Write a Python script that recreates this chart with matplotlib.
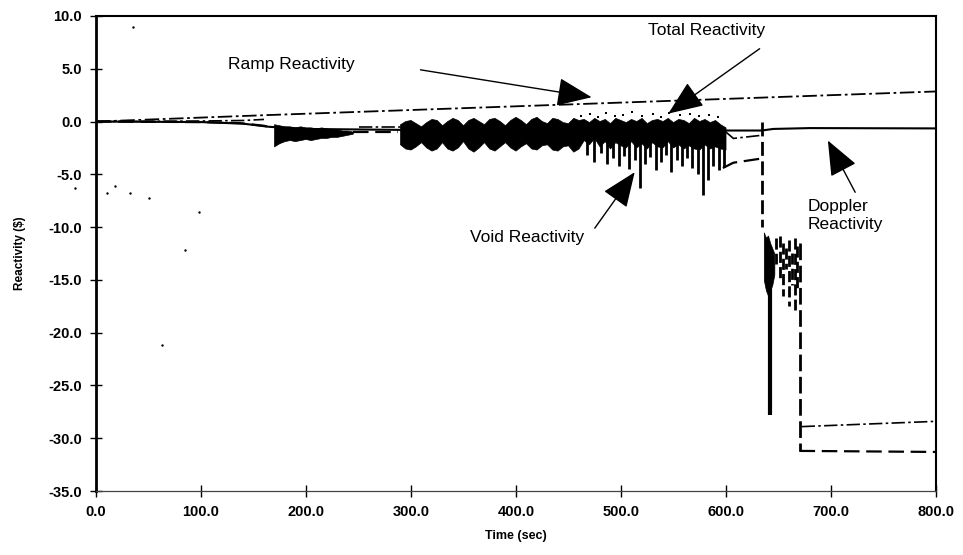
# reactivity components vs time (scanned report figure)

import numpy as np
import matplotlib.pyplot as plt
from matplotlib.ticker import MultipleLocator, FormatStrFormatter

# --- smooth traces -------------------------------------------------------
ramp_t = [0, 160, 800]
ramp_v = [0.0, 0.6, 2.85]

doppler_t = [0, 100, 140, 165, 200, 300, 450, 600, 634, 645, 680, 800]
doppler_v = [0.0, -0.05, -0.2, -0.5, -0.7, -0.8, -0.85, -0.85, -0.85, -0.7, -0.62, -0.65]

void_a_t = [0, 100, 137, 160, 168]
void_a_v = [0.0, -0.05, -0.15, -0.4, -0.6]
void_b_t = [245, 288]
void_b_v = [-1.0, -1.0]
void_c_t = [597, 607, 634]
void_c_v = [-4.4, -3.9, -3.5]
void_d_t = [670, 800]
void_d_v = [-31.2, -31.3]

total_a_t = [0, 100, 140, 160]
total_a_v = [0.0, 0.05, 0.1, 0.2]
total_b_t = [250, 290]
total_b_v = [-0.5, -0.5]
total_c_t = [600, 607, 634]
total_c_v = [-1.0, -1.6, -1.3]
total_d_t = [672, 800]
total_d_v = [-28.9, -28.4]

# --- oscillating void band (envelope read every 5 s) ---------------------
band_t = list(range(170, 601, 5))
band_hi = ([-0.3, -0.4, -0.5, -0.5, -0.6, -0.5, -0.6, -0.6, -0.7, -0.6, -0.7, -0.8, -0.8, -0.9, -0.9, -1.0]
           + [np.nan] * 8
           + [-0.3, 0.0, 0.1, -0.2, -0.5, -0.1, 0.2, 0.1, -0.4, 0.0, 0.3, 0.1, -0.4, 0.1, 0.3, 0.0, -0.3, 0.2,
              0.3, 0.0, -0.4, 0.1, 0.4, 0.1, -0.3, 0.2, 0.4, 0.0, -0.2, 0.3, 0.2, -0.1, -0.2, 0.3, 0.1]
           + [0.2, -0.1, 0.3, 0.0, 0.2, -0.2, 0.3, 0.1, -0.1, 0.2, 0.0, 0.3, -0.2, 0.1, 0.2, 0.0, 0.3, -0.1,
              0.2, 0.1, -0.2, 0.3, 0.0, 0.2, -0.1, 0.1, -0.3, -0.6])
band_lo = ([-2.4, -2.1, -1.9, -1.8, -1.9, -1.8, -1.7, -1.8, -1.7, -1.6, -1.6, -1.5, -1.5, -1.4, -1.3, -1.2]
           + [np.nan] * 8
           + [-2.2, -2.6, -2.7, -2.4, -2.0, -2.5, -2.8, -2.6, -2.0, -2.6, -2.8, -2.5, -1.9, -2.6, -2.9, -2.5,
              -2.0, -2.6, -2.8, -2.4, -2.0, -2.5, -2.8, -2.4, -2.1, -2.6, -2.7, -2.3, -2.2, -2.7, -2.8, -2.4,
              -2.3, -2.9, -2.6]
           + [-1.8, -2.2, -1.6, -2.4, -1.9, -2.6, -2.0, -2.3, -2.5, -1.9, -2.5, -2.1, -2.6, -2.0, -2.4, -2.5,
              -1.9, -2.5, -2.2, -2.6, -2.3, -2.6, -2.7, -2.2, -2.6, -2.4, -2.6, -2.7])

spike_t = [468, 474, 481, 487, 492, 498, 503, 508, 513, 518, 523, 528, 533, 538, 543, 548, 553, 558,
           563, 568, 573, 578, 583, 588, 593, 598]
spike_lo = [-3.2, -3.8, -3.0, -4.0, -3.5, -4.2, -3.3, -4.5, -3.6, -6.3, -4.0, -3.4, -4.6, -3.8, -3.2,
            -4.8, -3.6, -4.2, -3.5, -4.4, -5.0, -7.0, -5.5, -4.2, -4.6, -4.3]

dots_t = [462, 470, 478, 486, 494, 502, 510, 520, 530, 538, 546, 556, 566, 574, 584, 592]
dots_v = [0.5, 0.7, 0.4, 0.8, 0.5, 0.6, 0.9, 0.5, 0.7, 0.4, 0.8, 0.6, 0.7, 0.5, 0.6, 0.4]

# --- collapse after 634 s ------------------------------------------------
clus1_t = [636, 638, 640, 642, 644, 646]
clus1_hi = [-10.5, -11.0, -10.8, -11.5, -12.0, -12.5]
clus1_lo = [-15.0, -16.0, -16.5, -16.0, -15.5, -14.5]
clus2_t = [648, 651, 654, 657, 660, 663, 666, 668]
clus2_hi = [-11.0, -10.8, -11.5, -12.0, -11.2, -12.5, -11.0, -11.8]
clus2_lo = [-13.5, -15.0, -16.5, -14.0, -17.5, -15.5, -17.9, -16.0]
drop_t = [634, 642, 670]
drop_top = [0.0, -15.0, -11.5]
drop_bot = [-10.0, -27.8, -31.2]

# scanner specks
speck_t = [35, 10, 18, 32, 50, 98, 85, 63, -20]
speck_v = [9.0, -6.8, -6.1, -6.8, -7.2, -8.6, -12.2, -21.2, -6.3]

plt.rcParams['font.family'] = ['Liberation Sans', 'DejaVu Sans']

fig = plt.figure(figsize=(9.63, 5.55), dpi=100)
ax = fig.add_axes([0.0997, 0.1153, 0.8723, 0.8559])

dashdot = (0, (8, 2, 1.5, 2))
dashed = (0, (7, 3))

ax.plot(ramp_t, ramp_v, color='black', lw=1.3, linestyle=dashdot)
ax.plot(doppler_t, doppler_v, color='black', lw=1.5)
for tt, vv in [(void_a_t, void_a_v), (void_b_t, void_b_v), (void_c_t, void_c_v), (void_d_t, void_d_v)]:
    ax.plot(tt, vv, color='black', lw=1.6, linestyle=dashed)
for tt, vv in [(total_a_t, total_a_v), (total_b_t, total_b_v), (total_c_t, total_c_v), (total_d_t, total_d_v)]:
    ax.plot(tt, vv, color='black', lw=1.2, linestyle=dashdot)

ax.fill_between(band_t, band_hi, band_lo, color='black', lw=0.5)
ax.vlines(spike_t, -1.0, spike_lo, color='black', lw=2.0)
ax.scatter(dots_t, dots_v, s=4, marker='s', color='black', lw=0)

ax.fill_between(clus1_t, clus1_hi, clus1_lo, color='black', lw=0.5)
ax.vlines(clus2_t, clus2_hi, clus2_lo, color='black', lw=2.0, linestyles=(0, (4, 1.5)))
ax.vlines(drop_t[0], drop_top[0], drop_bot[0], color='black', lw=2.0, linestyles=(0, (5, 2)))
ax.vlines(drop_t[1], drop_top[1], drop_bot[1], color='black', lw=3.0)
ax.vlines(drop_t[2], drop_top[2], drop_bot[2], color='black', lw=2.0, linestyles=(0, (6, 2)))

ax.scatter(speck_t, speck_v, s=3, color='black', lw=0, clip_on=False)

# annotations
arrow = dict(arrowstyle='-|>,head_length=2.2,head_width=0.9', color='black', lw=1.0, shrinkA=0, shrinkB=0)
fs = 12.5
ax.text(126, 5.4, 'Ramp Reactivity', fontsize=fs, va='center', ha='left')
ax.annotate('', xy=(472, 2.3), xytext=(309, 4.9), arrowprops=arrow)
ax.text(581, 8.6, 'Total Reactivity', fontsize=fs, va='center', ha='center')
ax.annotate('', xy=(545, 0.75), xytext=(632, 6.9), arrowprops=arrow)
ax.text(356, -11.0, 'Void Reactivity', fontsize=fs, va='center', ha='left')
ax.annotate('', xy=(513, -4.8), xytext=(475, -10.1), arrowprops=arrow)
ax.text(678, -8.9, 'Doppler\nReactivity', fontsize=fs, va='center', ha='left', linespacing=1.25)
ax.annotate('', xy=(697, -1.8), xytext=(723, -6.7), arrowprops=arrow)

ax.set_xlim(0, 800)
ax.set_ylim(-35, 10)
ax.xaxis.set_major_locator(MultipleLocator(100))
ax.yaxis.set_major_locator(MultipleLocator(5))
ax.xaxis.set_major_formatter(FormatStrFormatter('%.1f'))
ax.yaxis.set_major_formatter(FormatStrFormatter('%.1f'))
ax.tick_params(direction='inout', length=8, width=1.0, labelsize=10.5, pad=6)
for lab in ax.get_xticklabels() + ax.get_yticklabels():
    lab.set_fontweight('bold')

ax.spines['left'].set_linewidth(2.0)
ax.spines['top'].set_linewidth(1.5)
ax.spines['right'].set_linewidth(1.5)
ax.spines['bottom'].set_linewidth(0.9)
ax.spines['bottom'].set_color('#444444')

ax.set_xlabel('Time (sec)', fontsize=9, fontweight='bold', labelpad=8)
ax.set_ylabel('Reactivity ($)', fontsize=8.5, fontweight='bold', labelpad=16)

fig.savefig('out.png', dpi=100)
